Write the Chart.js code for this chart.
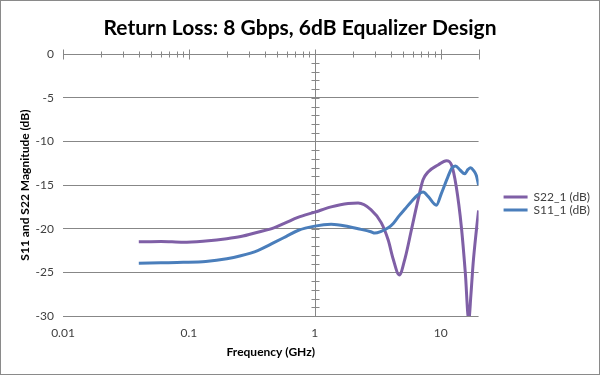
<!DOCTYPE html>
<html>
<head>
<meta charset="utf-8">
<script src="https://cdn.jsdelivr.net/npm/chart.js@4/dist/chart.umd.min.js"></script>
<style>
  html, body { margin: 0; padding: 0; background: #ffffff; }
  #wrap { width: 600px; height: 375px; position: relative; }
</style>
</head>
<body>
<div id="wrap"><canvas id="c" width="600" height="375"></canvas></div>
<script>
// ---- data ----
const chartTitle = 'Return Loss: 8 Gbps, 6dB Equalizer Design';
const xAxisTitle = 'Frequency (GHz)';
const yAxisTitle = 'S11 and S22 Magnitude (dB)';
const seriesNames = ['S22_1 (dB)', 'S11_1 (dB)'];

const xTickValues = [0.01, 0.1, 1, 10];
const xTickLabels = ['0.01', '0.1', '1', '10'];
const yTickValues = [0, -5, -10, -15, -20, -25, -30];
const yTickLabels = ['0', '-5', '-10', '-15', '-20', '-25', '-30'];

// S22_1 (purple)
const freqS22 = [0.04, 0.06, 0.09, 0.136, 0.2, 0.258, 0.352, 0.473, 0.59, 0.735,
                 1.0, 1.35, 1.84, 2.21, 2.79, 3.37, 3.83, 4.2, 4.69, 5.23,
                 5.84, 6.61, 7.24, 7.94, 9.53, 11.1, 12.2, 13.3, 14.6, 15.7,
                 16.7, 17.4, 18.1, 19.2, 20];
const s22 = [-21.5, -21.45, -21.55, -21.4, -21.15, -20.9, -20.4, -19.9, -19.3, -18.7,
             -18.1, -17.5, -17.1, -17.05, -17.8, -19.3, -21.3, -23.5, -25.3, -23.3,
             -20.2, -16.7, -14.4, -13.5, -12.7, -12.2, -12.7, -15.2, -19.8, -25.1,
             -30.5, -27.5, -24.0, -20.2, -17.9];

// S11_1 (blue)
const freqS11 = [0.04, 0.06, 0.09, 0.136, 0.2, 0.258, 0.352, 0.473, 0.59, 0.735,
                 1.0, 1.35, 1.84, 2.21, 2.79, 3.0, 3.37, 3.83, 4.2, 4.69,
                 5.23, 5.84, 6.61, 7.24, 7.94, 9.24, 10.1, 11.45, 12.2, 13.1,
                 14.3, 15.5, 16.5, 17.3, 18.2, 19.2, 20];
const s11 = [-23.95, -23.9, -23.85, -23.75, -23.45, -23.1, -22.5, -21.6, -20.9, -20.2,
             -19.7, -19.5, -19.75, -20.0, -20.35, -20.5, -20.3, -19.9, -19.4, -18.5,
             -17.7, -16.9, -16.1, -15.8, -16.3, -17.3, -16.0, -14.0, -13.1, -12.8,
             -13.3, -13.7, -13.2, -13.0, -13.3, -13.9, -15.0];

// ---- styling ----
const FONT = 'Lato, "Open Sans", "Liberation Sans", sans-serif';
const GRID = '#878787';
const PURPLE = '#7f5fa6';
const BLUE = '#4a7ebb';

const toPoints = (xs, ys) => xs.map((f, i) => ({ x: f, y: ys[i] }));

const excelAxes = {
  id: 'excelAxes',
  beforeDraw(chart) {
    const { ctx, width, height } = chart;
    ctx.save();
    ctx.fillStyle = '#ffffff';
    ctx.fillRect(0, 0, width, height);
    ctx.strokeStyle = '#8a8a8a';
    ctx.lineWidth = 1;
    ctx.strokeRect(0.5, 0.5, width - 1, height - 1);
    ctx.restore();
  },
  beforeDatasetsDraw(chart) {
    const { ctx, chartArea: a, scales } = chart;
    const x = scales.x, y = scales.y;
    const y0 = Math.round(y.getPixelForValue(0)) + 0.5;
    const x0 = Math.round(x.getPixelForValue(1)) + 0.5;
    ctx.save();
    ctx.strokeStyle = GRID;
    ctx.lineWidth = 1;
    ctx.beginPath();
    ctx.moveTo(a.left, y0); ctx.lineTo(a.right, y0);
    ctx.moveTo(x0, a.top); ctx.lineTo(x0, a.bottom);
    for (const d of xTickValues) {
      for (let k = 1; k <= 9; k++) {
        const v = d * k;
        if (v > x.max * 1.0001) break;
        const px = Math.round(x.getPixelForValue(v)) + 0.5;
        const len = (k === 1 || v >= x.max * 0.999) ? 5 : 3;
        ctx.moveTo(px, y0 - len); ctx.lineTo(px, y0 + len);
      }
    }
    for (let v = y.min; v <= y.max; v += 1) {
      const py = Math.round(y.getPixelForValue(v)) + 0.5;
      ctx.moveTo(x0 - 4, py); ctx.lineTo(x0 + 4, py);
    }
    ctx.stroke();
    ctx.restore();
  }
};

new Chart(document.getElementById('c'), {
  type: 'line',
  data: {
    datasets: [
      {
        label: seriesNames[0],
        data: toPoints(freqS22, s22),
        borderColor: PURPLE, backgroundColor: PURPLE,
        borderWidth: 3, pointRadius: 0, fill: false,
        cubicInterpolationMode: 'monotone',
        xAxisID: 'x', yAxisID: 'y', order: 1
      },
      {
        label: seriesNames[1],
        data: toPoints(freqS11, s11),
        borderColor: BLUE, backgroundColor: BLUE,
        borderWidth: 3, pointRadius: 0, fill: false,
        cubicInterpolationMode: 'monotone',
        xAxisID: 'x', yAxisID: 'y', order: 0
      }
    ]
  },
  options: {
    responsive: false,
    devicePixelRatio: 1,
    animation: false,
    layout: { padding: { left: 0, top: 0, right: 0, bottom: 0 } },
    scales: {
      x: {
        type: 'logarithmic', position: 'bottom', min: 0.01, max: 20,
        afterBuildTicks: (s) => { s.ticks = xTickValues.map(v => ({ value: v })); },
        ticks: {
          autoSkip: false, maxRotation: 0, padding: 10,
          font: { family: FONT, size: 12 }, color: '#404040',
          callback: (v) => xTickLabels[xTickValues.indexOf(v)]
        },
        grid: { display: false, drawTicks: false },
        border: { display: false },
        title: { display: true, text: xAxisTitle, color: '#000000',
                 font: { family: FONT, size: 12, weight: 'bold' },
                 padding: { top: 0, bottom: 16 } },
        afterFit: (s) => { s.height = 59; }
      },
      y: {
        type: 'linear', position: 'left', min: -30, max: 0,
        afterBuildTicks: (s) => { s.ticks = yTickValues.map(v => ({ value: v })); },
        ticks: {
          padding: 9, font: { family: FONT, size: 12 }, color: '#404040',
          callback: (v) => yTickLabels[yTickValues.indexOf(v)]
        },
        grid: { color: GRID, lineWidth: 1, drawTicks: false },
        border: { display: false },
        title: { display: true, text: yAxisTitle, color: '#000000',
                 font: { family: FONT, size: 12, weight: 'bold' },
                 padding: { top: 18, bottom: 0 } },
        afterFit: (s) => { s.width = 63; }
      },
      yr: {
        type: 'linear', position: 'right', display: true,
        grid: { display: false, drawTicks: false },
        border: { display: false },
        ticks: { display: false },
        afterFit: (s) => { s.width = 24; }
      }
    },
    plugins: {
      title: {
        display: true, text: chartTitle, color: '#000000',
        font: { family: FONT, size: 21, weight: 'bold' },
        padding: { top: 16, bottom: 13 }
      },
      legend: {
        position: 'right', align: 'center', fullSize: true,
        title: { display: true, text: ' ', font: { size: 10 }, padding: { top: 20, bottom: 0 } },
        labels: {
          boxWidth: 24, boxHeight: 3, padding: 1,
          font: { family: FONT, size: 12 }, color: '#404040',
          sort: (a, b) => a.datasetIndex - b.datasetIndex,
          generateLabels: (chart) =>
            Chart.defaults.plugins.legend.labels.generateLabels(chart)
              .map(l => Object.assign({}, l, { lineWidth: 0, fillStyle: l.strokeStyle }))
        }
      },
      tooltip: { enabled: false }
    }
  },
  plugins: [excelAxes]
});
</script>
</body>
</html>
